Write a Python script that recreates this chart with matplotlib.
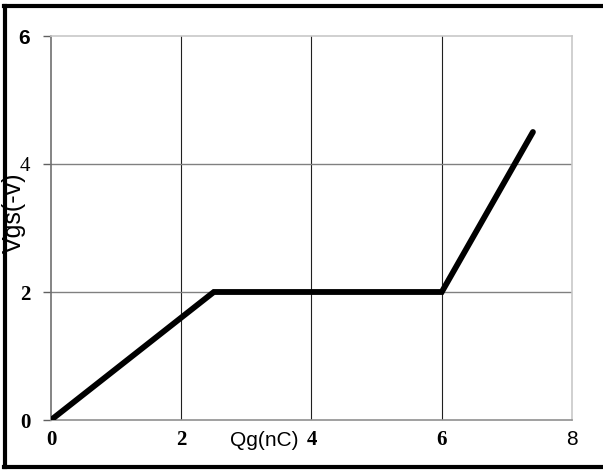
import matplotlib
matplotlib.use("Agg")
import matplotlib.pyplot as plt

qg = [0, 2.5, 6, 7.4]
vgs = [0, 2, 2, 4.5]
xticks = [0, 2, 4, 6, 8]
yticks = [0, 2, 4, 6]
xlabel = "Qg(nC)"
ylabel = "Vgs(-v)"

fig = plt.figure(figsize=(6.03, 4.70), dpi=100)
W, H = 603, 470
ax = fig.add_axes([51 / W, 1 - 420 / H, (572 - 51) / W, (420 - 36) / H])
ax.set_xlim(0, 8)
ax.set_ylim(0, 6)

for x in [2, 4, 6]:
    ax.axvline(x, color="#202020", lw=0.8, zorder=1)
for y in [2, 4]:
    ax.axhline(y, color="#808080", lw=1.0, zorder=1)

ax.plot(qg, vgs, color="black", lw=4.2, solid_capstyle="round",
        solid_joinstyle="miter", zorder=3)

ax.spines["top"].set_color("#c8c8c8")
ax.spines["right"].set_color("#c8c8c8")
ax.spines["left"].set_color("#707070")
ax.spines["bottom"].set_color("#909090")
for s in ax.spines.values():
    s.set_linewidth(1.2)

ax.set_xticks(xticks)
ax.set_yticks(yticks)
ax.tick_params(axis="x", length=0, pad=7)
ax.tick_params(axis="y", length=6, width=1, color="#606060", pad=9)
ax.set_xticklabels([str(v) for v in xticks])
ax.set_yticklabels([str(v) for v in yticks])

xfonts = [("Liberation Serif", "bold"), ("Liberation Serif", "bold"),
          ("Liberation Serif", "bold"), ("Liberation Serif", "bold"),
          ("Liberation Sans", "normal")]
for lab, (fam, wt) in zip(ax.get_xticklabels(), xfonts):
    lab.set_fontfamily(fam)
    lab.set_fontweight(wt)
    lab.set_fontsize(15)
yfonts = [("Liberation Serif", "bold"), ("Liberation Serif", "bold"),
          ("Liberation Serif", "normal"), ("Liberation Sans", "bold")]
for lab, (fam, wt) in zip(ax.get_yticklabels(), yfonts):
    lab.set_fontfamily(fam)
    lab.set_fontweight(wt)
    lab.set_fontsize(15)

fig.text(264 / W, 1 - 441 / H, xlabel, fontsize=15, family="Liberation Sans",
         ha="center", va="center")
fig.text(14 / W, 1 - 213 / H, ylabel, fontsize=18, family="Liberation Sans",
         ha="center", va="center", rotation=90)

# figure border (left, top, bottom)
fig.add_artist(plt.Line2D([5 / W, 5 / W], [1 - 6 / H, 1 - 467 / H],
                          transform=fig.transFigure, color="black", lw=3))
fig.add_artist(plt.Line2D([4 / W, 1], [1 - 6 / H, 1 - 6 / H],
                          transform=fig.transFigure, color="black", lw=3))
fig.add_artist(plt.Line2D([4 / W, 1], [1 - 467 / H, 1 - 467 / H],
                          transform=fig.transFigure, color="black", lw=3))

fig.savefig("out.png", dpi=100)
